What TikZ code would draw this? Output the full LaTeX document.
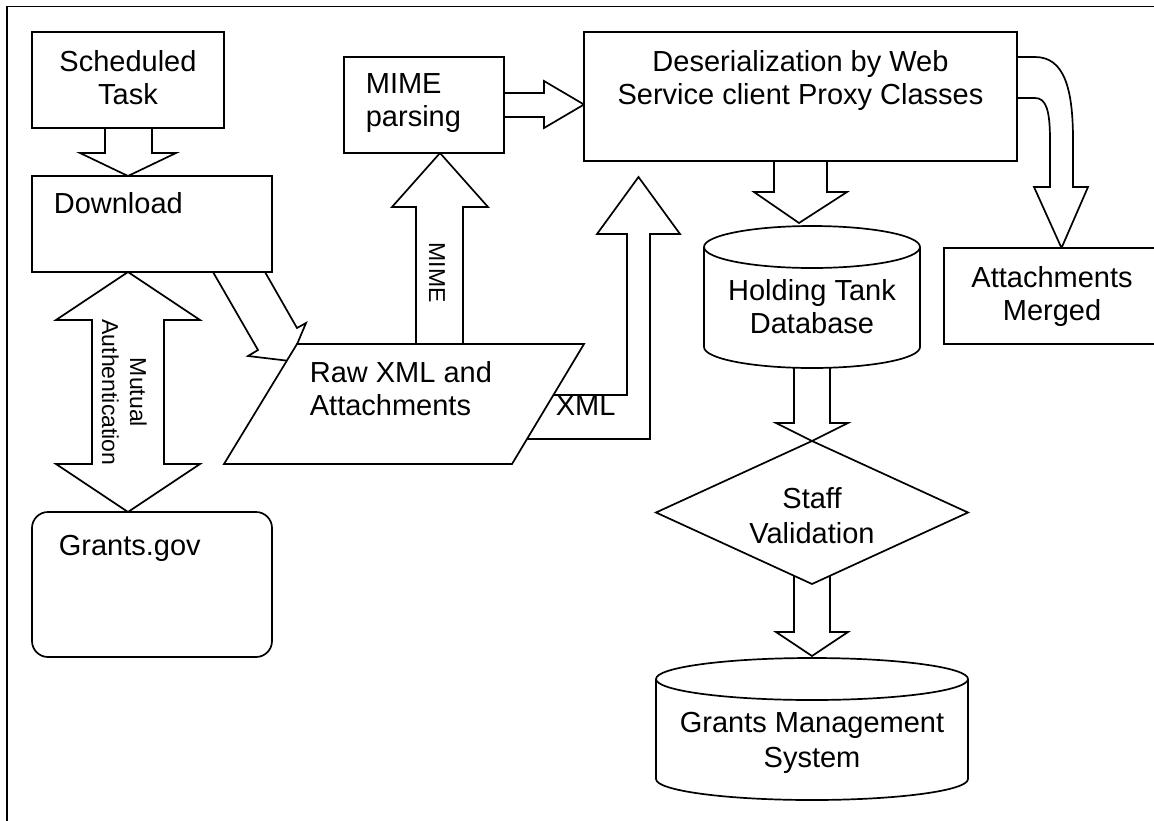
\documentclass[tikz,border=0pt]{standalone}
\usepackage{fontspec}
\setmainfont{Liberation Sans}
\begin{document}
\begin{tikzpicture}[x=1pt,y=-1pt,line width=1.7pt,line join=miter,
  blk/.style={draw=black,fill=white},
  shp/.style={draw=black,fill=white},
  txt/.style={font=\fontsize{29}{33}\selectfont,inner sep=0pt},
  txtw/.style={font=\fontsize{29}{35}\selectfont,inner sep=0pt},
  lbl/.style={font=\fontsize{23}{26}\selectfont,inner sep=0pt}]
\useasboundingbox (0,0) rectangle (1154,820);
\clip (0,0) rectangle (1154,820);
% frame
\draw[line width=1.2pt] (7,830) -- (7,6.5) -- (1165,6.5);

% ---- block arrows (drawn first, shapes cover their ends) ----
% Scheduled Task -> Download
\path[blk] (105,128) -- (105,153) -- (80,153) -- (128,176) -- (176,153) -- (152,153) -- (152,128);
% Mutual authentication (double)
\path[blk] (128,272) -- (200,320) -- (164,320) -- (164,464) -- (200,464) -- (128,512) -- (56,464) -- (92,464) -- (92,320) -- (56,320) -- cycle;
% Download -> Raw XML
\path[blk] (213,272) -- (258,350) -- (248,356) -- (290,361) -- (306,323) -- (297,328) -- (265,272);
% Raw XML -> MIME parsing
\path[blk] (416,350) -- (416,207) -- (392,207) -- (440,153) -- (488,207) -- (463,207) -- (463,350);
% MIME parsing -> Deserialization
\path[blk] (504,93) -- (544,93) -- (544,81) -- (584,104.5) -- (544,128) -- (544,117) -- (504,117);
% Raw XML -> Deserialization (XML)
\path[blk] (500,395) -- (627,395) -- (627,234) -- (597,234) -- (638.5,177) -- (680,234) -- (650,234) -- (650,439) -- (500,439);
% Deserialization -> Holding Tank
\path[blk] (774,161) -- (774,192) -- (754,192) -- (799,223) -- (847,192) -- (827,192) -- (827,161);
% Deserialization -> Attachments Merged (curved)
\path[blk] (1017,57) -- (1035,57) .. controls (1064,57) and (1073,88) .. (1073,140) -- (1073,187) -- (1088,187) -- (1061.5,248) -- (1034,187) -- (1050,187) -- (1050,140) .. controls (1050,110) and (1046,98) .. (1035,98) -- (1017,98);
% Holding Tank -> Staff Validation
\path[blk] (794,360) -- (794,423) -- (776,423) -- (812,441) -- (848,423) -- (830,423) -- (830,360);
% Staff Validation -> Grants Management System
\path[blk] (794,570) -- (794,632) -- (776,632) -- (812,656) -- (848,632) -- (830,632) -- (830,570);

% ---- shapes ----
\path[shp] (32,32) rectangle (224,128);
\path[shp] (32,176) rectangle (272,272);
\path[shp,rounded corners=16] (32,512) rectangle (272,657);
\path[shp] (344,57) rectangle (504,153);
\path[shp] (584,32) rectangle (1017,161);
\path[shp] (944,248) rectangle (1170,344);
\path[shp] (224,464) -- (297,344) -- (584,344) -- (512,464) -- cycle;
% Holding tank cylinder
\path[shp] (704,247) -- (704,347) arc[start angle=180,end angle=0,x radius=108,y radius=21] -- (920,247) arc[start angle=0,end angle=-180,x radius=108,y radius=21] -- cycle;
\draw (704,247) arc[start angle=180,end angle=0,x radius=108,y radius=21];
% Staff validation diamond
\path[shp] (812,441) -- (968,512.5) -- (812,584) -- (656,512.5) -- cycle;
% Grants management cylinder
\path[shp] (656,679) -- (656,779) arc[start angle=180,end angle=0,x radius=156,y radius=21] -- (968,679) arc[start angle=0,end angle=-180,x radius=156,y radius=21] -- cycle;
\draw (656,679) arc[start angle=180,end angle=0,x radius=156,y radius=21];

% ---- texts (base anchor = baseline of last line) ----
\node[txt,anchor=base,align=center] (sched) at (128,104) {Scheduled\\Task};
\node[txt,anchor=base west] (download) at (53,213) {Download};
\node[txt,anchor=base west] (grantsgov) at (58,555) {Grants.gov};
\node[txt,anchor=base west,align=left] (mimeparse) at (365,126) {MIME\\parsing};
\node[txt,anchor=base,align=center] (deser) at (800.5,104) {Deserialization by Web\\Service client Proxy Classes};
\node[txt,anchor=base,align=center] (tank) at (812,333) {Holding Tank\\Database};
\node[txt,anchor=base,align=center] (attach) at (1052,320) {Attachments\\Merged};
\node[txt,anchor=base west,align=left] (raw) at (309,415) {Raw XML and\\Attachments};
\node[txtw,anchor=base,align=center] (staff) at (812,543) {Staff\\Validation};
\node[txtw,anchor=base,align=center] (gms) at (812,767) {Grants Management\\System};
\node[txt,anchor=base west] (xmllabel) at (555,415) {XML};
\node[lbl,anchor=base,rotate=-90] (mimelabel) at (429,272.5) {MIME};
\node[lbl,anchor=base,rotate=-90] (mutual) at (130,392.5) {Mutual};
\node[lbl,anchor=base,rotate=-90] (authentication) at (102,392.5) {Authentication};
\end{tikzpicture}
\end{document}
